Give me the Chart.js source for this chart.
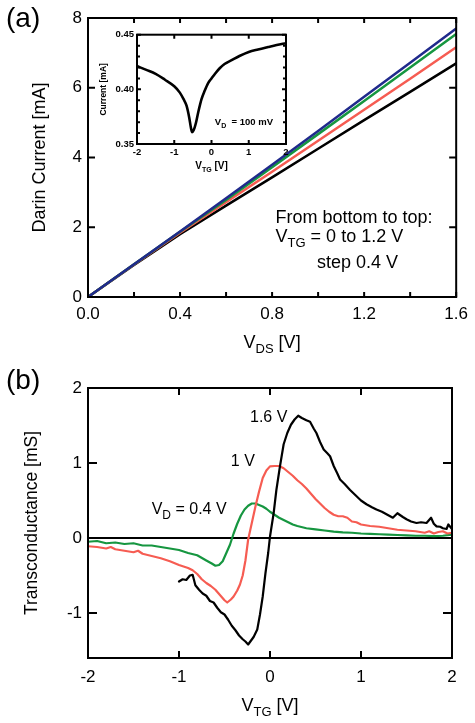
<!DOCTYPE html>
<html>
<head>
<meta charset="utf-8">
<title>Drain current and transconductance</title>
<script src="https://cdn.jsdelivr.net/npm/chart.js@4.4.1/dist/chart.umd.min.js"></script>
<style>
  html, body { margin: 0; padding: 0; background: #fff; }
  #page { position: relative; width: 475px; height: 723px; overflow: hidden; }
  canvas { position: absolute; }
  #chartA { left: 0; top: 0; }
  #chartB { left: 0; top: 362px; }
  #inset { left: 96px; top: 26px; }
</style>
</head>
<body>
<div id="page">
  <canvas id="chartA" width="475" height="362"></canvas>
  <canvas id="inset" width="196" height="152"></canvas>
  <canvas id="chartB" width="475" height="361"></canvas>
</div>
<script>
var FONT = '"Liberation Sans", Arial, Helvetica, sans-serif';

// (a) drain current [mA] vs VDS [V], one curve per top gate voltage
var vds = [0, 0.2, 0.4, 0.6, 0.8, 1.0, 1.2, 1.4, 1.6];
var idVtg00 = [0, 0.92, 1.80, 2.62, 3.43, 4.25, 5.07, 5.88, 6.70];
var idVtg04 = [0, 0.93, 1.84, 2.72, 3.59, 4.48, 5.37, 6.26, 7.16];
var idVtg08 = [0, 0.94, 1.87, 2.78, 3.72, 4.67, 5.62, 6.58, 7.54];
var idVtg12 = [0, 0.94, 1.88, 2.83, 3.79, 4.76, 5.74, 6.72, 7.70];
var vdsLabelled = [0, 0.4, 0.8, 1.2, 1.6];

// inset: current [mA] vs VTG [V] at VD = 100 mV
var vtgInset = [-2, -1.75, -1.5, -1.25, -1, -0.85, -0.75, -0.67, -0.6, -0.55, -0.52, -0.48, -0.42, -0.35,
  -0.27, -0.18, -0.09, 0, 0.1, 0.22, 0.35, 0.54, 0.75, 1, 1.25, 1.52, 1.75, 2];
var iInset = [0.4213, 0.4178, 0.4142, 0.4088, 0.4028, 0.397, 0.391, 0.385, 0.3745, 0.3645, 0.3608, 0.3625, 0.369, 0.380,
  0.3909, 0.399, 0.4058, 0.410, 0.4145, 0.4193, 0.4232, 0.4267, 0.4305, 0.4342, 0.4365, 0.4387, 0.4405, 0.4422];
var insetXLabelled = [-2, -1, 0, 1, 2];
var insetYLabelled = [0.35, 0.40, 0.45];

// (b) transconductance [mS] vs VTG [V]
var vtgD04 = [-2.0, -1.9, -1.8, -1.7, -1.6, -1.5, -1.4, -1.3, -1.2, -1.1, -1.0, -0.9, -0.8, -0.7, -0.64, -0.6, -0.56,
  -0.52, -0.48, -0.44, -0.40, -0.36, -0.32, -0.28, -0.24, -0.2, -0.16, -0.12, -0.08, -0.04, 0.0, 0.05, 0.1, 0.15,
  0.2, 0.25, 0.3, 0.4, 0.5, 0.6, 0.7, 0.8, 0.9, 1.0, 1.1, 1.2, 1.3, 1.4, 1.5, 1.6, 1.7, 1.8, 1.9, 2.0];
var gmD04 = [-0.05, -0.04, -0.07, -0.06, -0.08, -0.07, -0.10, -0.10, -0.12, -0.14, -0.16, -0.20, -0.23, -0.30, -0.34,
  -0.37, -0.36, -0.31, -0.20, -0.09, 0.06, 0.19, 0.30, 0.38, 0.43, 0.46, 0.46, 0.44, 0.42, 0.39, 0.35, 0.31, 0.27,
  0.24, 0.21, 0.18, 0.16, 0.13, 0.115, 0.10, 0.085, 0.075, 0.07, 0.06, 0.055, 0.05, 0.045, 0.04, 0.035, 0.03, 0.03,
  0.025, 0.03, 0.045];
var vtgD10 = [-2.0, -1.9, -1.8, -1.75, -1.7, -1.6, -1.5, -1.45, -1.4, -1.3, -1.2, -1.1, -1.0, -0.95, -0.9, -0.85,
  -0.8, -0.75, -0.7, -0.65, -0.6, -0.55, -0.5, -0.47, -0.43, -0.40, -0.36, -0.33, -0.30, -0.27, -0.24, -0.20, -0.16,
  -0.12, -0.08, -0.04, 0.0, 0.05, 0.1, 0.15, 0.2, 0.25, 0.3, 0.35, 0.4, 0.45, 0.5, 0.55, 0.6, 0.65, 0.7, 0.75, 0.8,
  0.85, 0.9, 0.95, 1.0, 1.1, 1.2, 1.3, 1.4, 1.5, 1.6, 1.7, 1.75, 1.8, 1.85, 1.9, 1.95, 2.0];
var gmD10 = [-0.11, -0.12, -0.14, -0.12, -0.15, -0.17, -0.19, -0.17, -0.21, -0.24, -0.27, -0.31, -0.36, -0.38, -0.40,
  -0.43, -0.48, -0.55, -0.60, -0.64, -0.69, -0.76, -0.83, -0.86, -0.82, -0.78, -0.70, -0.62, -0.50, -0.30, -0.02,
  0.20, 0.42, 0.62, 0.80, 0.90, 0.955, 0.96, 0.96, 0.93, 0.88, 0.83, 0.77, 0.72, 0.66, 0.59, 0.52, 0.46, 0.40, 0.35,
  0.31, 0.29, 0.29, 0.27, 0.22, 0.21, 0.18, 0.16, 0.15, 0.13, 0.11, 0.10, 0.09, 0.07, 0.09, 0.06, 0.08, 0.09, 0.06, 0.07];
var vtgD16 = [-1.0, -0.96, -0.92, -0.88, -0.85, -0.82, -0.78, -0.74, -0.7, -0.66, -0.62, -0.58, -0.54, -0.5, -0.46,
  -0.42, -0.38, -0.34, -0.3, -0.27, -0.24, -0.21, -0.18, -0.14, -0.11, -0.08, -0.05, -0.02, 0.0, 0.04, 0.07, 0.11,
  0.15, 0.19, 0.23, 0.27, 0.31, 0.35, 0.4, 0.44, 0.48, 0.51, 0.55, 0.59, 0.63, 0.66, 0.7, 0.74, 0.77, 0.82, 0.88,
  0.94, 1.0, 1.06, 1.12, 1.17, 1.23, 1.29, 1.35, 1.4, 1.46, 1.5, 1.55, 1.61, 1.66, 1.72, 1.77, 1.8, 1.83, 1.87, 1.9,
  1.94, 1.96, 2.0];
var gmD16 = [-0.58, -0.55, -0.56, -0.50, -0.49, -0.63, -0.69, -0.74, -0.77, -0.84, -0.86, -0.93, -0.99, -1.02, -1.09,
  -1.17, -1.23, -1.30, -1.35, -1.38, -1.42, -1.37, -1.32, -1.22, -1.02, -0.78, -0.47, -0.20, 0.02, 0.33, 0.64, 0.96,
  1.25, 1.40, 1.51, 1.58, 1.63, 1.60, 1.57, 1.55, 1.46, 1.40, 1.28, 1.18, 1.13, 1.09, 0.96, 0.86, 0.78, 0.72, 0.64,
  0.57, 0.50, 0.45, 0.41, 0.38, 0.35, 0.31, 0.27, 0.33, 0.28, 0.25, 0.22, 0.20, 0.21, 0.20, 0.27, 0.19, 0.155, 0.15,
  0.13, 0.12, 0.18, 0.12];
var vtgLabelled = [-2, -1, 0, 1, 2];
var gmLabelled = [-1, 0, 1, 2];

var BLUE = 'rgb(32,42,140)', GREEN = 'rgb(22,150,64)', RED = 'rgb(246,92,82)', BLACK = '#000';

function xy(xs, ys) {
  return xs.map(function (x, i) { return { x: x, y: ys[i] }; });
}

// tick label only for the values in the list, other ticks stay unlabelled
function only(list, digits) {
  return function (v) {
    for (var i = 0; i < list.length; i++) {
      if (Math.abs(v - list[i]) < 1e-6) return list[i].toFixed(digits);
    }
    return '';
  };
}

// text with subscripts: parts starting with '_' are set as subscript
function rich(ctx, x, y, parts, size, align, weight) {
  var sub = Math.round(size * 0.72);
  var w = 0;
  weight = weight ? weight + ' ' : '';
  parts.forEach(function (p) {
    var s = p[0] === '_';
    ctx.font = weight + (s ? sub : size) + 'px ' + FONT;
    w += ctx.measureText(s ? p.slice(1) : p).width;
  });
  if (align === 'center') x -= w / 2;
  ctx.textAlign = 'left';
  ctx.textBaseline = 'alphabetic';
  parts.forEach(function (p) {
    var s = p[0] === '_';
    var t = s ? p.slice(1) : p;
    ctx.font = weight + (s ? sub : size) + 'px ' + FONT;
    ctx.fillText(t, x, y + (s ? size * 0.3 : 0));
    x += ctx.measureText(t).width;
  });
}

function vertical(ctx, text, x, y, font) {
  ctx.save();
  ctx.translate(x, y);
  ctx.rotate(-Math.PI / 2);
  ctx.font = font + ' ' + FONT;
  ctx.textAlign = 'center';
  ctx.textBaseline = 'middle';
  ctx.fillText(text, 0, 0);
  ctx.restore();
}

// box round the plot area, ticks pointing inwards on all four sides
var framePlugin = {
  id: 'frame',
  beforeDatasetsDraw: function (chart, args, o) {
    if (!o.zero) return;
    var a = chart.chartArea, ctx = chart.ctx, p = chart.scales.y.getPixelForValue(0);
    ctx.save();
    ctx.strokeStyle = '#000';
    ctx.lineWidth = 2;
    ctx.beginPath();
    ctx.moveTo(a.left, p);
    ctx.lineTo(a.right, p);
    ctx.stroke();
    ctx.restore();
  },
  afterDraw: function (chart, args, o) {
    var a = chart.chartArea, ctx = chart.ctx;
    ctx.save();
    ctx.strokeStyle = '#000';
    ctx.lineWidth = o.width;
    ctx.strokeRect(a.left, a.top, a.right - a.left, a.bottom - a.top);
    chart.scales.x.ticks.forEach(function (t) {
      var p = chart.scales.x.getPixelForValue(t.value);
      var len = t.label === '' ? o.xMinor : o.xLen;
      ctx.beginPath();
      ctx.moveTo(p, a.bottom); ctx.lineTo(p, a.bottom - len);
      ctx.moveTo(p, a.top); ctx.lineTo(p, a.top + len);
      ctx.stroke();
    });
    chart.scales.y.ticks.forEach(function (t) {
      var p = chart.scales.y.getPixelForValue(t.value);
      var len = t.label === '' ? o.yMinor : o.yLen;
      ctx.beginPath();
      ctx.moveTo(a.left, p); ctx.lineTo(a.left + len, p);
      ctx.moveTo(a.right, p); ctx.lineTo(a.right - len, p);
      ctx.stroke();
    });
    ctx.restore();
  }
};

function axis(min, max, step, labels, digits, font, pad, fit) {
  return {
    type: 'linear', min: min, max: max,
    grid: { display: false, drawTicks: false },
    border: { display: false },
    ticks: {
      stepSize: step, autoSkip: false, maxRotation: 0, includeBounds: false,
      padding: pad, color: '#000', font: font,
      callback: only(labels, digits)
    },
    afterFit: fit
  };
}

function base(pad) {
  return {
    responsive: false, animation: false, devicePixelRatio: 1,
    layout: { padding: pad },
    elements: { point: { radius: 0 }, line: { tension: 0, borderCapStyle: 'round', borderJoinStyle: 'round' } },
    plugins: { legend: { display: false }, tooltip: { enabled: false } }
  };
}

var big = { family: FONT, size: 17 };
var small = { family: FONT, size: 9.5, weight: 'bold' };

// ---- panel (a) ----
var optA = base({ top: 18, right: 14, left: 0, bottom: 0 });
optA.plugins.frame = { width: 2, xLen: 5, xMinor: 5, yLen: 7, yMinor: 7 };
optA.scales = {
  x: axis(0, 1.6, 0.2, vdsLabelled, 1, big, 7, function (s) { s.height = 65; }),
  y: axis(0, 8, 2, [0, 2, 4, 6, 8], 0, big, 6, function (s) { s.width = 88; })
};
new Chart(document.getElementById('chartA'), {
  type: 'line',
  data: {
    datasets: [
      { label: 'VTG = 1.2 V', data: xy(vds, idVtg12), borderColor: BLUE, borderWidth: 2.5 },
      { label: 'VTG = 0.8 V', data: xy(vds, idVtg08), borderColor: GREEN, borderWidth: 2.5 },
      { label: 'VTG = 0.4 V', data: xy(vds, idVtg04), borderColor: RED, borderWidth: 2.5 },
      { label: 'VTG = 0 V', data: xy(vds, idVtg00), borderColor: BLACK, borderWidth: 2.5 }
    ]
  },
  options: optA,
  plugins: [framePlugin, {
    id: 'textA',
    afterDraw: function (chart) {
      var a = chart.chartArea, ctx = chart.ctx, x = chart.scales.x, y = chart.scales.y;
      ctx.save();
      ctx.fillStyle = '#000';
      vertical(ctx, 'Darin Current [mA]', a.left - 48, (a.top + a.bottom) / 2, '18px');
      rich(ctx, (a.left + a.right) / 2, a.bottom + 51, ['V', '_DS', ' [V]'], 18, 'center');
      rich(ctx, 6, 27, ['(a)'], 28);
      rich(ctx, x.getPixelForValue(0.815), y.getPixelForValue(2.13), ['From bottom to top:'], 18);
      rich(ctx, x.getPixelForValue(0.815), y.getPixelForValue(1.58), ['V', '_TG', ' = 0 to 1.2 V'], 18);
      rich(ctx, x.getPixelForValue(0.995), y.getPixelForValue(0.83), ['step 0.4 V'], 18);
      ctx.restore();
    }
  }]
});

// ---- inset ----
var optI = base({ top: 6, right: 6, left: 0, bottom: 0 });
optI.plugins.frame = { width: 2, xLen: 4, xMinor: 3, yLen: 4, yMinor: 3 };
optI.scales = {
  x: axis(-2, 2, 1, insetXLabelled, 0, small, 3, function (s) { s.height = 34; }),
  y: axis(0.35, 0.45, 0.01, insetYLabelled, 2, small, 3, function (s) { s.width = 41; })
};
new Chart(document.getElementById('inset'), {
  type: 'line',
  data: {
    datasets: [{
      label: 'VD = 100 mV', data: xy(vtgInset, iInset), borderColor: BLACK, borderWidth: 2.6,
      cubicInterpolationMode: 'monotone'
    }]
  },
  options: optI,
  plugins: [framePlugin, {
    id: 'textI',
    afterDraw: function (chart) {
      var a = chart.chartArea, ctx = chart.ctx, x = chart.scales.x, y = chart.scales.y;
      ctx.save();
      ctx.fillStyle = '#000';
      vertical(ctx, 'Current [mA]', a.left - 33, (a.top + a.bottom) / 2, 'bold 8.5px');
      rich(ctx, (a.left + a.right) / 2, a.bottom + 25, ['V', '_TG', ' [V]'], 10, 'center', 'bold');
      rich(ctx, x.getPixelForValue(0.09), y.getPixelForValue(0.367), ['V', '_D', '  = 100 mV'], 9.5, null, 'bold');
      ctx.restore();
    }
  }]
});

// ---- panel (b) ----
var optB = base({ top: 26, right: 23, left: 0, bottom: 0 });
optB.plugins.frame = { width: 2, xLen: 7, xMinor: 7, yLen: 9, yMinor: 9, zero: true };
optB.scales = {
  x: axis(-2, 2, 1, vtgLabelled, 0, big, 9, function (s) { s.height = 65; }),
  y: axis(-1.6, 2, 1, gmLabelled, 0, big, 6, function (s) { s.width = 88; })
};
new Chart(document.getElementById('chartB'), {
  type: 'line',
  data: {
    datasets: [
      { label: '1.6 V', data: xy(vtgD16, gmD16), borderColor: BLACK, borderWidth: 2.2 },
      { label: '1 V', data: xy(vtgD10, gmD10), borderColor: RED, borderWidth: 2.2 },
      { label: 'VD = 0.4 V', data: xy(vtgD04, gmD04), borderColor: GREEN, borderWidth: 2.2 }
    ]
  },
  options: optB,
  plugins: [framePlugin, {
    id: 'textB',
    afterDraw: function (chart) {
      var a = chart.chartArea, ctx = chart.ctx, x = chart.scales.x, y = chart.scales.y;
      ctx.save();
      ctx.fillStyle = '#000';
      vertical(ctx, 'Transconductance [mS]', a.left - 56, (a.top + a.bottom) / 2, '17.5px');
      rich(ctx, (a.left + a.right) / 2, a.bottom + 53, ['V', '_TG', ' [V]'], 18, 'center');
      rich(ctx, 6, 27, ['(b)'], 28);
      rich(ctx, x.getPixelForValue(-0.22), y.getPixelForValue(1.55), ['1.6 V'], 16);
      rich(ctx, x.getPixelForValue(-0.43), y.getPixelForValue(0.96), ['1 V'], 16);
      rich(ctx, x.getPixelForValue(-1.30), y.getPixelForValue(0.32), ['V', '_D', ' = 0.4 V'], 16);
      ctx.restore();
    }
  }]
});
</script>
</body>
</html>
